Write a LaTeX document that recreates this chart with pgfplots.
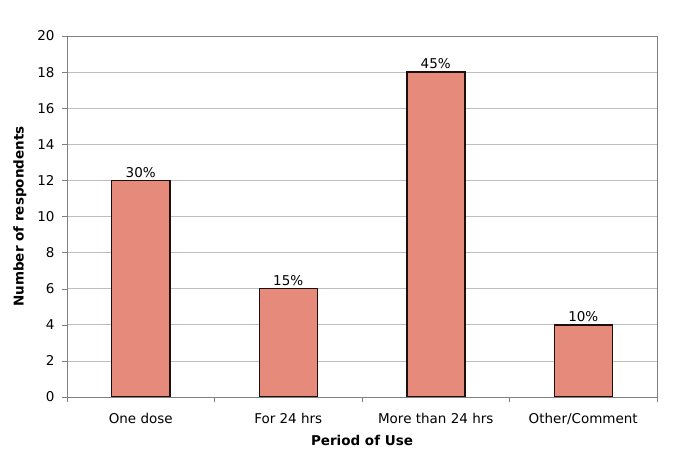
\documentclass[border=0pt]{standalone}
\usepackage{fontspec}
\setmainfont{DejaVu Sans}
\usepackage{pgfplots}
\pgfplotsset{compat=1.18}
\definecolor{barfill}{RGB}{230,139,123}
\definecolor{baredge}{RGB}{30,15,15}
\definecolor{framegray}{RGB}{128,128,128}
\definecolor{gridgray}{RGB}{190,190,190}

\begin{document}
\begin{tikzpicture}[x=1pt,y=1pt]
\path[use as bounding box] (-67,-60) rectangle (618,397);
\begin{axis}[
    at={(0,0)}, anchor=south west,
    scale only axis,
    width=590pt, height=361pt,
    xmin=-0.5, xmax=3.5,
    ymin=0, ymax=20,
    ytick={0,2,...,20},
    xtick={0,1,2,3},
    xticklabels={One dose,For 24 hrs,More than 24 hrs,Other/Comment},
    minor xtick={-0.5,0.5,1.5,2.5,3.5},
    xtick pos=bottom, ytick pos=left,
    major x tick style={draw=none},
    minor x tick style={draw=framegray},
    y tick style={draw=framegray},
    tick align=outside,
    major tick length=5pt,
    minor tick length=5pt,
    axis line style={draw=framegray},
    ymajorgrids,
    grid style={draw=gridgray, line width=0.6pt},
    tick label style={font=\fontsize{13.5}{16}\selectfont},
    /pgf/number format/assume math mode=true,
    xticklabel style={yshift=-8pt},
    yticklabel style={xshift=-4pt},
    xlabel={\bfseries Period of Use},
    ylabel={\bfseries Number of respondents},
    label style={font=\fontsize{13.5}{16}\selectfont},
    xlabel style={yshift=-3pt},
    ylabel style={yshift=4pt},
    nodes near coords,
    point meta=explicit symbolic,
    every node near coord/.append style={font=\fontsize{13.5}{16}\selectfont, yshift=-1pt},
]
\addplot[ybar, bar width=58pt, fill=barfill, draw=baredge, line width=1.5pt]
coordinates {(0,12) [30\%] (1,6) [15\%] (2,18) [45\%] (3,4) [10\%]};
\end{axis}
\end{tikzpicture}
\end{document}
